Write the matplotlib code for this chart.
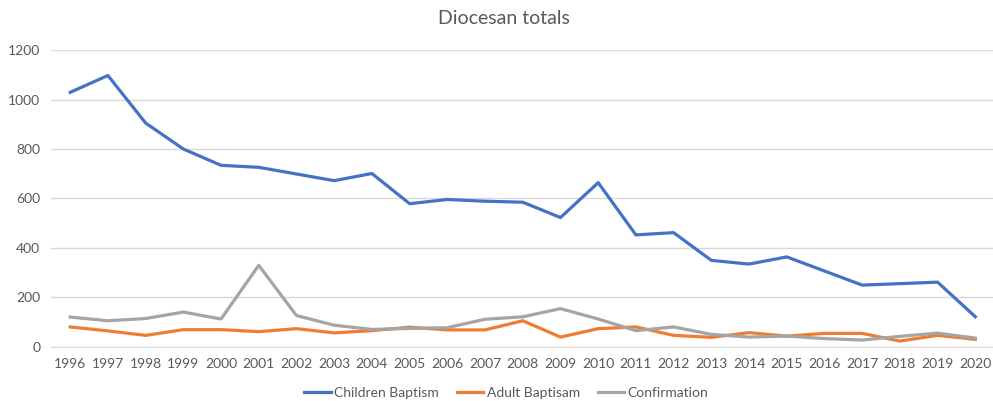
import matplotlib
matplotlib.use("Agg")
import matplotlib.pyplot as plt

years = list(range(1996, 2021))
children_baptism = [1029, 1097, 905, 800, 734, 726, 699, 672, 701, 579, 596, 589, 585,
                    523, 664, 453, 462, 350, 335, 364, 307, 250, 256, 262, 122]
adult_baptism = [81, 65, 47, 70, 70, 62, 74, 57, 66, 80, 69, 69, 106,
                 40, 74, 81, 47, 39, 58, 44, 55, 55, 24, 47, 31]
confirmation = [121, 106, 115, 141, 113, 330, 127, 88, 71, 75, 78, 112, 122,
                155, 113, 66, 81, 51, 40, 44, 34, 28, 43, 56, 36]

TEXT = "#595959"
GRID = "#D9D9D9"

plt.rcParams["font.family"] = ["Lato", "DejaVu Sans"]

fig = plt.figure(figsize=(9.93, 4.01), dpi=100)
ax = fig.add_axes([0.0517, 0.1347, 0.9495, 0.7406])

ax.plot(years, children_baptism, color="#4472C4", lw=2.3, label="Children Baptism")
ax.plot(years, adult_baptism, color="#ED7D31", lw=2.3, label="Adult Baptisam")
ax.plot(years, confirmation, color="#A5A5A5", lw=2.3, label="Confirmation")

ax.set_xlim(1995.5, 2020.5)
ax.set_ylim(0, 1200)
ax.set_xticks(years)
ax.set_yticks(range(0, 1201, 200))
ax.tick_params(length=0, labelsize=10, colors=TEXT, pad=8)
ax.grid(axis="y", color=GRID, lw=1)
ax.set_axisbelow(True)
for side in ("top", "right", "left"):
    ax.spines[side].set_visible(False)
ax.spines["bottom"].set_color(GRID)

fig.text(0.507, 0.953, "Diocesan totals", ha="center", va="center",
         fontsize=14, color=TEXT)

fig.legend(loc="center", bbox_to_anchor=(0.51, 0.02), ncol=3, frameon=False,
           fontsize=10, labelcolor=TEXT, handlelength=1.9, handletextpad=0.25,
           columnspacing=1.3)

fig.savefig("out.png", dpi=100)
